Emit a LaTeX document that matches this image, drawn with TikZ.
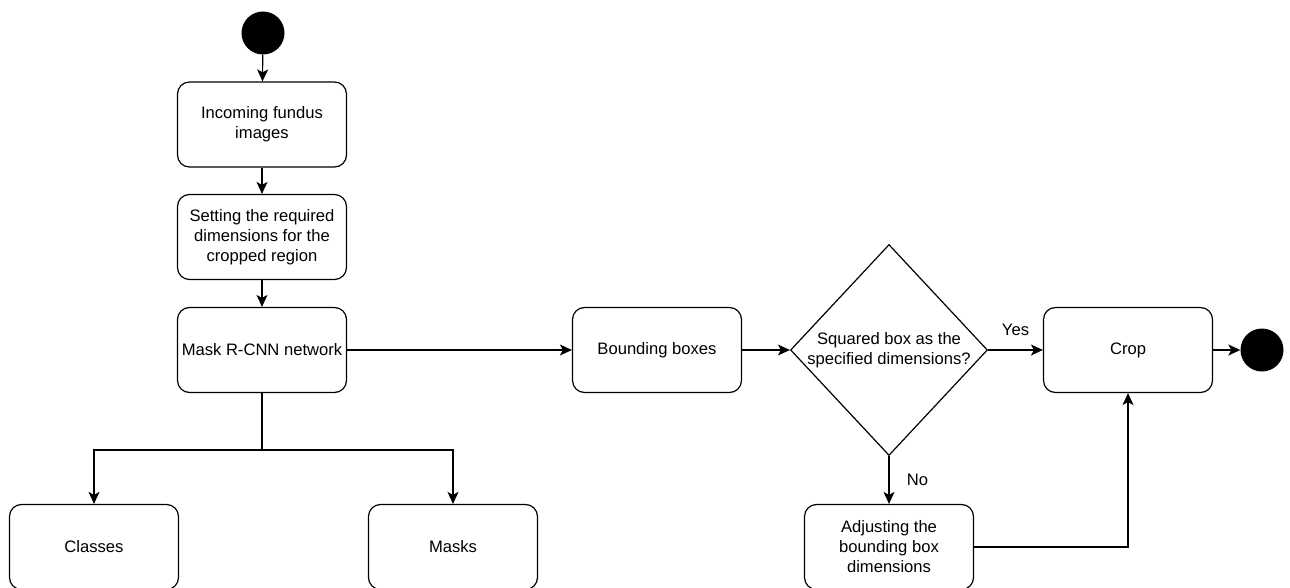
\documentclass[tikz,border=0pt]{standalone}
\usepackage{fontspec}
\setmainfont{Liberation Sans}
\usetikzlibrary{shapes.geometric,arrows.meta}

\tikzstyle{stepbox}=[draw,line width=1.2pt,rounded corners=12pt,minimum width=169pt,minimum height=85pt,align=center,inner sep=2pt]
\tikzstyle{dot}=[circle,fill=black,minimum size=43pt,inner sep=0pt]
\tikzstyle{decision}=[draw,line width=1.2pt,diamond,minimum width=197pt,minimum height=211pt,inner sep=0pt]
\tikzstyle{flow}=[draw,line width=1.2pt,-{Stealth[length=12pt,width=11pt,inset=3pt]}]
\tikzstyle{weight}=[font=\fontsize{16.6}{20}\selectfont]
\newcommand{\flowfont}{\fontsize{16.6}{20}\selectfont}

\begin{document}
\begin{tikzpicture}[x=1pt,y=-1pt,font=\flowfont]
    \useasboundingbox (0,0) rectangle (1290,588);
    % start and end points
    \node[dot] (start) at (263,33) {};
    \node[dot] (stop) at (1262,350) {};
    % First we draw the boxes
    \foreach \pos/\name/\txt in {{(262,124.5)/incoming/Incoming fundus\\images},
        {(262,237)/setting/Setting the required\\dimensions for the\\cropped region},
        {(262,350)/mask/Mask R-CNN network},
        {(94,547)/classes/Classes}, {(453,547)/masks/Masks},
        {(657,350)/bbox/Bounding boxes}, {(1128,350)/crop/Crop},
        {(889,547)/adjust/Adjusting the\\bounding box\\dimensions}}
        \node[stepbox] (\name) at \pos {\txt};
    % the check
    \node[decision] (check) at (889,350) {};
    \node[align=center,inner sep=0pt] (checktxt) at (check.center) {Squared box as the\\specified dimensions?};
    \coordinate (split) at (262,450);
    % Connect boxes with arrows
    \foreach \source/ \dest in {start/incoming,incoming/setting,setting/mask,mask/bbox,bbox/check.west,crop/stop}
        \path[flow] (\source) -- (\dest);
    \path[flow] (check.east) -- node[weight,above=10pt] {Yes} (crop);
    \path[flow] (check.south) -- node[weight,right=14pt] {No} (adjust);
    \path[flow] (adjust) -| (crop);
    \draw[line width=1.2pt] (mask) -- (split);
    \path[flow] (split) -| (classes);
    \path[flow] (split) -| (masks);
\end{tikzpicture}
\end{document}
